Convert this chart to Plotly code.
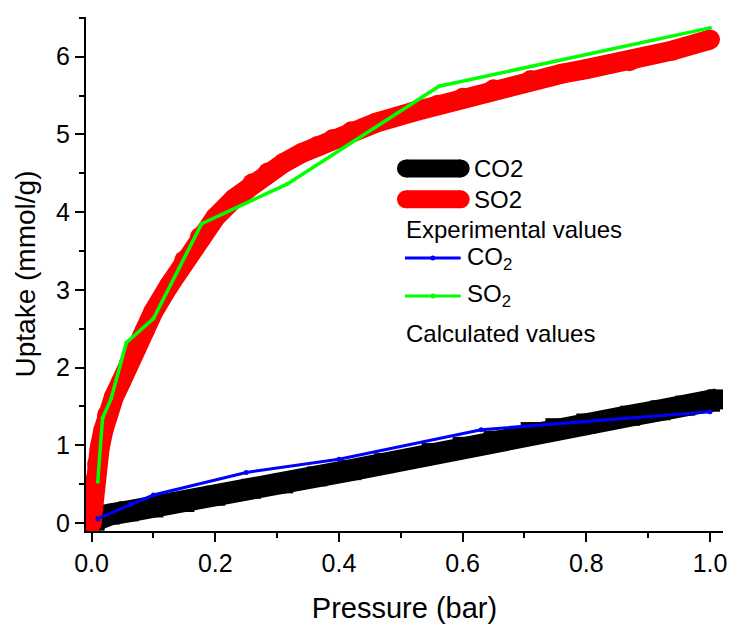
import plotly.graph_objects as go

# Experimental isotherms
co2_exp_p = [0.005, 0.015, 0.03, 0.06, 0.10, 0.15, 0.20, 0.258, 0.31, 0.365, 0.42, 0.473, 0.55, 0.60, 0.65, 0.71, 0.75, 0.80, 0.871, 0.92, 0.96, 1.0, 1.012]
co2_exp_v = [0.03, 0.09, 0.11, 0.15, 0.20, 0.27, 0.35, 0.44, 0.51, 0.60, 0.68, 0.77, 0.90, 0.98, 1.06, 1.17, 1.22, 1.28, 1.38, 1.45, 1.51, 1.56, 1.59]

so2_exp_p = [0.0, 0.002, 0.005, 0.009, 0.013, 0.019, 0.025, 0.036, 0.048, 0.06, 0.072, 0.086, 0.10, 0.125, 0.15, 0.175, 0.20, 0.23, 0.26, 0.285, 0.31, 0.34, 0.365, 0.39, 0.42, 0.46, 0.52, 0.56, 0.60, 0.65, 0.71, 0.76, 0.80, 0.87, 0.94, 1.0]
so2_exp_v = [0.0, 0.25, 0.54, 0.76, 0.96, 1.19, 1.39, 1.62, 1.82, 2.04, 2.24, 2.48, 2.72, 3.05, 3.38, 3.68, 3.93, 4.17, 4.37, 4.51, 4.63, 4.76, 4.85, 4.94, 5.04, 5.15, 5.29, 5.38, 5.47, 5.58, 5.70, 5.78, 5.84, 5.94, 6.08, 6.22]

# Calculated values
co2_calc_p = [0.01, 0.063, 0.10, 0.25, 0.40, 0.63, 1.0]
co2_calc_v = [0.055, 0.24, 0.36, 0.65, 0.82, 1.20, 1.43]

so2_calc_p = [0.01, 0.0178, 0.0316, 0.0562, 0.10, 0.178, 0.316, 0.562, 1.0]
so2_calc_v = [0.53, 1.35, 1.60, 2.32, 2.63, 3.85, 4.36, 5.62, 6.37]

x_ticks = [0.0, 0.2, 0.4, 0.6, 0.8, 1.0]
y_ticks = [0, 1, 2, 3, 4, 5, 6]

FONT = "Liberation Sans, Arial, sans-serif"

fig = go.Figure()
fig.add_trace(go.Scatter(x=co2_exp_p, y=co2_exp_v, mode="lines+markers",
                         line=dict(color="black", width=22),
                         marker=dict(symbol="square", size=20, color="black"),
                         showlegend=False))
fig.add_trace(go.Scatter(x=so2_exp_p, y=so2_exp_v, mode="lines+markers",
                         line=dict(color="#ff0000", width=20),
                         marker=dict(symbol="circle", size=20, color="#ff0000"),
                         showlegend=False))
fig.add_trace(go.Scatter(x=co2_calc_p, y=co2_calc_v, mode="lines+markers",
                         line=dict(color="#0000ff", width=3),
                         marker=dict(symbol="circle", size=5, color="#0000ff"),
                         showlegend=False))
fig.add_trace(go.Scatter(x=so2_calc_p, y=so2_calc_v, mode="lines+markers",
                         line=dict(color="#00ff00", width=3.5),
                         marker=dict(symbol="circle", size=4, color="#00ff00"),
                         showlegend=False))

L, R, T, B = 86, 727, 17, 533
W, H = 738, 630


def px_x(px):
    return (px - L) / (R - L)


def px_y(py):
    return (B - py) / (B - T)


shapes = []
annotations = []


def dot(xc, y, r, color):
    shapes.append(dict(type="circle", xref="paper", yref="paper",
                       xsizemode="pixel", ysizemode="pixel",
                       xanchor=px_x(xc), yanchor=px_y(y),
                       x0=-r, x1=r, y0=-r, y1=r,
                       fillcolor=color, line=dict(width=0)))


def thick_entry(y, color):
    x0, x1, r = 408, 463, 9
    shapes.append(dict(type="line", xref="paper", yref="paper",
                       x0=px_x(x0), x1=px_x(x1), y0=px_y(y), y1=px_y(y),
                       line=dict(color=color, width=2 * r)))
    for xc in (x0, x1):
        dot(xc, y, r, color)


def thin_entry(y, color):
    shapes.append(dict(type="line", xref="paper", yref="paper",
                       x0=px_x(407), x1=px_x(463), y0=px_y(y), y1=px_y(y),
                       line=dict(color=color, width=3)))
    dot(435, y, 2.5, color)


def label(x, y, text):
    annotations.append(dict(x=px_x(x), y=px_y(y), xref="paper", yref="paper",
                            text=text, showarrow=False, xanchor="left",
                            yanchor="middle",
                            font=dict(family=FONT, size=24, color="black")))


thick_entry(169, "black")
label(474, 169, "CO2")
thick_entry(200, "#ff0000")
label(474, 200, "SO2")
label(406, 230, "Experimental values")
thin_entry(259, "#0000ff")
label(467, 259, "CO<sub>2</sub>")
thin_entry(297, "#00ff00")
label(467, 297, "SO<sub>2</sub>")
label(406, 335, "Calculated values")

fig.update_layout(
    width=W, height=H,
    margin=dict(l=L, r=W - R, t=T, b=H - B),
    paper_bgcolor="white", plot_bgcolor="white",
    font=dict(family=FONT, color="black"),
    shapes=shapes, annotations=annotations,
    showlegend=False,
)
fig.update_xaxes(
    range=[-0.009, 1.021], tickvals=x_ticks,
    ticktext=[f"{v:.1f}" for v in x_ticks],
    showgrid=False, zeroline=False, showline=True, linecolor="black", linewidth=2,
    ticks="outside", ticklen=9, tickwidth=2, tickcolor="black",
    minor=dict(ticks="outside", ticklen=5, tickwidth=2, tickcolor="black", dtick=0.1, tick0=0),
    tickfont=dict(size=25, family=FONT),
    title=dict(text="Pressure (bar)", font=dict(size=29, family=FONT), standoff=22),
)
fig.update_yaxes(
    range=[-0.103, 6.51], tickvals=y_ticks,
    ticktext=[str(v) for v in y_ticks],
    showgrid=False, zeroline=False, showline=True, linecolor="black", linewidth=2,
    ticks="outside", ticklen=9, tickwidth=2, tickcolor="black",
    minor=dict(ticks="outside", ticklen=5, tickwidth=2, tickcolor="black", dtick=0.5, tick0=0),
    tickfont=dict(size=25, family=FONT),
    title=dict(text="Uptake (mmol/g)", font=dict(size=28, family=FONT), standoff=12),
)

fig.write_html("out.html")
